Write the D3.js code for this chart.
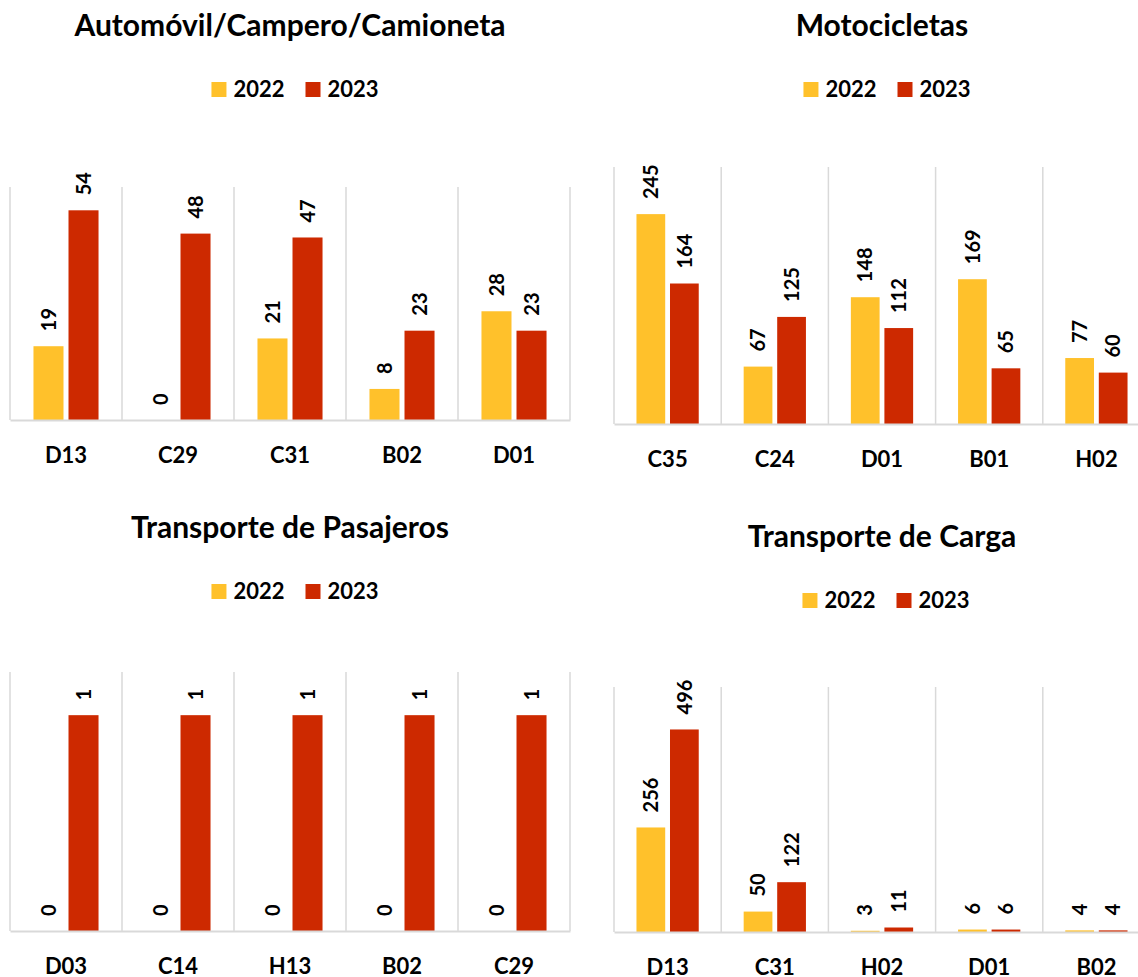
<!DOCTYPE html>
<html lang="es">
<head>
<meta charset="UTF-8">
<title>Vehículos por localidad 2022-2023</title>
<script src="https://cdnjs.cloudflare.com/ajax/libs/d3/7.8.5/d3.min.js"></script>
<style>
  body { margin: 0; background: #fff; font-family: Lato, "Open Sans", sans-serif; }
  svg text { font-family: Lato, "Open Sans", sans-serif; font-weight: 700; fill: #000; }
</style>
</head>
<body>
<svg id="chart" width="1138" height="977"></svg>
<script>
// ---- data ----
const years = ["2022", "2023"];
const yearColors = ["#FFC12B", "#CD2900"];

const titles = ["Automóvil/Campero/Camioneta", "Motocicletas", "Transporte de Pasajeros", "Transporte de Carga"];

const autosCats = ["D13", "C29", "C31", "B02", "D01"];
const autos2022 = [19, 0, 21, 8, 28];
const autos2023 = [54, 48, 47, 23, 23];

const motosCats = ["C35", "C24", "D01", "B01", "H02"];
const motos2022 = [245, 67, 148, 169, 77];
const motos2023 = [164, 125, 112, 65, 60];

const pasajerosCats = ["D03", "C14", "H13", "B02", "C29"];
const pasajeros2022 = [0, 0, 0, 0, 0];
const pasajeros2023 = [1, 1, 1, 1, 1];

const cargaCats = ["D13", "C31", "H02", "D01", "B02"];
const carga2022 = [256, 50, 3, 6, 4];
const carga2023 = [496, 122, 11, 6, 4];

const yMax = [60, 300, 1.2, 600];

// ---- layout (pixel boxes for each panel) ----
const panels = [
  { cats: autosCats, s: [autos2022, autos2023], left: 10, right: 570, top: 187, base: 420, cx: 290, lx: 295, titleY: 36, legendY: 97 },
  { cats: motosCats, s: [motos2022, motos2023], left: 614, right: 1150, top: 167, base: 424, cx: 882, lx: 887, titleY: 36, legendY: 97 },
  { cats: pasajerosCats, s: [pasajeros2022, pasajeros2023], left: 10, right: 570, top: 672, base: 931, cx: 290, lx: 295, titleY: 538, legendY: 599 },
  { cats: cargaCats, s: [carga2022, carga2023], left: 614, right: 1150, top: 687, base: 932, cx: 882, lx: 886, titleY: 547, legendY: 608 }
];

const svg = d3.select("#chart");
const grid = "#d9d9d9";

panels.forEach((p, i) => {
  const g = svg.append("g");

  // title
  g.append("text")
    .attr("x", p.cx).attr("y", p.titleY)
    .attr("text-anchor", "middle")
    .attr("font-size", 30)
    .text(titles[i]);

  // legend, centred on lx
  const leg = g.append("g");
  let lxPos = 0;
  years.forEach((yr, k) => {
    leg.append("rect")
      .attr("x", lxPos).attr("y", -15)
      .attr("width", 15).attr("height", 15)
      .attr("fill", yearColors[k]);
    const t = leg.append("text")
      .attr("x", lxPos + 22).attr("y", 0)
      .attr("font-size", 22)
      .text(yr);
    lxPos += 22 + t.node().getComputedTextLength() + 21;
  });
  const legW = lxPos - 21;
  leg.attr("transform", `translate(${p.lx - legW / 2},${p.legendY})`);

  // scales
  const x0 = d3.scaleBand().domain(p.cats).range([p.left, p.right]).padding(0);
  const x1 = d3.scaleBand().domain(years).range([0, x0.bandwidth()])
    .paddingInner(0.143).paddingOuter(0.67);
  const y = d3.scaleLinear().domain([0, yMax[i]]).range([p.base, p.top]);

  // vertical gridlines at category boundaries
  const bounds = p.cats.map(c => x0(c)).concat([p.right]);
  g.selectAll(".vgrid").data(bounds).join("line")
    .attr("x1", d => d).attr("x2", d => d)
    .attr("y1", y(yMax[i])).attr("y2", y(0))
    .attr("stroke", grid).attr("stroke-width", 1.5);

  // bars
  p.cats.forEach((c, ci) => {
    years.forEach((yr, k) => {
      const v = p.s[k][ci];
      const bx = x0(c) + x1(yr);
      g.append("rect")
        .attr("x", bx).attr("y", y(v))
        .attr("width", x1.bandwidth())
        .attr("height", y(0) - y(v))
        .attr("fill", yearColors[k]);
      const lx = bx + x1.bandwidth() / 2;
      const ly = y(v) - 15;
      g.append("text")
        .attr("transform", `translate(${lx},${ly}) rotate(-90)`)
        .attr("dy", "0.36em")
        .attr("font-size", 20)
        .text(v);
    });
  });

  // x axis
  const ax = g.append("g")
    .attr("transform", `translate(0,${y(0)})`)
    .call(d3.axisBottom(x0).tickSize(0).tickPadding(43));
  ax.select(".domain").attr("stroke", grid).attr("stroke-width", 2);
  ax.selectAll(".tick text")
    .attr("font-size", 22)
    .attr("dy", 0)
    .style("font-family", "Lato, 'Open Sans', sans-serif")
    .style("font-weight", 700)
    .attr("fill", "#000");
});
</script>
</body>
</html>
